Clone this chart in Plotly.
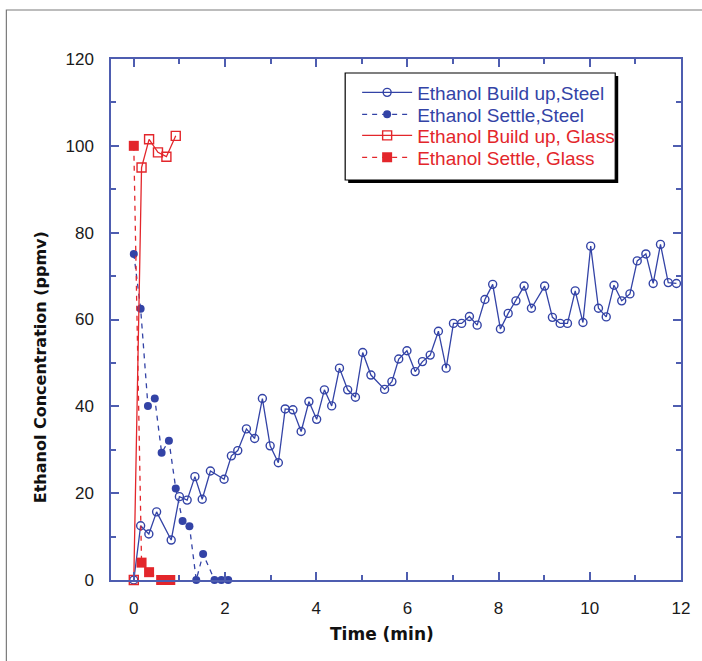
import plotly.graph_objects as go

# ---- data ----
steel_build_t = [0, 0.15, 0.33, 0.50, 0.82, 1.00, 1.17, 1.34, 1.50, 1.68, 1.98, 2.14, 2.28, 2.47, 2.65,
                 2.82, 2.99, 3.17, 3.32, 3.49, 3.67, 3.84, 4.01, 4.18, 4.34, 4.51, 4.69, 4.86, 5.02,
                 5.20, 5.50, 5.66, 5.81, 5.99, 6.17, 6.33, 6.50, 6.68, 6.85, 7.01, 7.19, 7.36, 7.53,
                 7.70, 7.87, 8.04, 8.21, 8.38, 8.56, 8.72, 9.01, 9.18, 9.35, 9.51, 9.68, 9.85, 10.02,
                 10.19, 10.36, 10.53, 10.70, 10.88, 11.04, 11.23, 11.39, 11.55, 11.72, 11.90]
steel_build_c = [0, 12.5, 10.6, 15.7, 9.2, 19.2, 18.4, 23.8, 18.6, 25.1, 23.2, 28.6, 29.8, 34.8, 32.6,
                 41.8, 30.9, 27.0, 39.4, 39.2, 34.2, 41.1, 37.0, 43.8, 40.1, 48.8, 43.8, 42.1, 52.4,
                 47.2, 43.9, 45.7, 50.9, 52.8, 48.0, 50.3, 51.8, 57.3, 48.8, 59.1, 59.1, 60.7, 58.7,
                 64.6, 68.1, 57.8, 61.4, 64.3, 67.7, 62.6, 67.7, 60.5, 59.1, 59.1, 66.6, 59.3, 76.9,
                 62.6, 60.6, 67.9, 64.3, 65.9, 73.5, 75.1, 68.3, 77.3, 68.5, 68.3]

steel_settle_t = [0, 0.15, 0.31, 0.46, 0.61, 0.77, 0.92, 1.07, 1.22, 1.37, 1.52, 1.77, 1.92, 2.07]
steel_settle_c = [75.1, 62.5, 40.1, 41.8, 29.3, 32.1, 21.1, 13.6, 12.4, 0, 6.0, 0, 0, 0]

glass_build_t = [0, 0.17, 0.335, 0.53, 0.715, 0.92]
glass_build_c = [0, 95.0, 101.5, 98.5, 97.5, 102.3]

glass_settle_t = [0, 0.17, 0.335, 0.6, 0.8]
glass_settle_c = [100, 4.0, 1.8, 0, 0]

x_ticks = [0, 2, 4, 6, 8, 10, 12]
y_ticks = [0, 20, 40, 60, 80, 100, 120]

BLUE = "#3343A6"
RED = "#E3262B"
AXIS = "#4E5DB0"
FONT = "Liberation Sans, Arial, sans-serif"
WIDE = "DejaVu Sans, Liberation Sans, Arial, sans-serif"

fig = go.Figure()
fig.add_trace(go.Scatter(
    x=steel_build_t, y=steel_build_c, mode="lines+markers",
    name="<span style='color:%s'>Ethanol Build up,Steel</span>" % BLUE, legend="legend",
    line=dict(color=BLUE, width=1.3),
    marker=dict(symbol="circle-open", size=8, color=BLUE, line=dict(width=1.4, color=BLUE)),
    cliponaxis=False))
fig.add_trace(go.Scatter(
    x=steel_settle_t, y=steel_settle_c, mode="lines+markers",
    name="<span style='color:%s'>Ethanol Settle,Steel</span>" % BLUE, legend="legend2",
    line=dict(color=BLUE, width=1.3, dash="5px,5px"),
    marker=dict(symbol="circle", size=8, color=BLUE),
    cliponaxis=False))
fig.add_trace(go.Scatter(
    x=glass_build_t, y=glass_build_c, mode="lines+markers",
    name="<span style='color:%s'>Ethanol Build up, Glass</span>" % RED, legend="legend3",
    line=dict(color=RED, width=1.3),
    marker=dict(symbol="square-open", size=9, color=RED, line=dict(width=1.4, color=RED)),
    cliponaxis=False))
fig.add_trace(go.Scatter(
    x=glass_settle_t, y=glass_settle_c, mode="lines+markers",
    name="<span style='color:%s'>Ethanol Settle, Glass</span>" % RED, legend="legend4",
    line=dict(color=RED, width=1.3, dash="5px,5px"),
    marker=dict(symbol="square", size=10, color=RED),
    cliponaxis=False))

axis_common = dict(
    showline=True, linecolor=AXIS, linewidth=1.5, mirror="ticks",
    ticks="inside", tickcolor=AXIS, tickwidth=1.5, ticklen=8,
    showgrid=False, zeroline=False,
    tickfont=dict(family=FONT, size=17, color="#1a1a1a"),
)

fig.update_xaxes(
    range=[-0.5, 12], tickvals=x_ticks, ticktext=[str(v) for v in x_ticks],
    minor=dict(dtick=1, ticks="inside", ticklen=5, tickcolor=AXIS, tickwidth=1.5),
    ticklabelstandoff=12,
    **axis_common)
fig.update_yaxes(
    range=[0, 120], tickvals=y_ticks, ticktext=[str(v) for v in y_ticks],
    minor=dict(dtick=10, ticks="inside", ticklen=5, tickcolor=AXIS, tickwidth=1.5),
    ticklabelstandoff=12,
    **axis_common)

W, H = 702, 661
L, R, T, B = 111, 19, 59, 81
pw, ph = W - L - R, H - T - B

def px(x):
    return (x - L) / pw

def py(y):
    return (H - B - y) / ph

shapes = [
    # outer gray frame
    dict(type="rect", xref="paper", yref="paper", x0=px(6), x1=px(730), y0=py(700), y1=py(10),
         line=dict(color="#7a7a7a", width=1.2), fillcolor="rgba(0,0,0,0)", layer="below"),
    # legend shadow
    dict(type="rect", xref="paper", yref="paper", x0=px(349), x1=px(620), y0=py(183), y1=py(76),
         line=dict(width=0), fillcolor="#000000", layer="above"),
    # legend box
    dict(type="rect", xref="paper", yref="paper", x0=px(346), x1=px(617), y0=py(180), y1=py(73),
         line=dict(color="#000000", width=1.2), fillcolor="#ffffff", layer="above"),
]

annotations = [
    dict(text="<b>Time (min)</b>", xref="paper", yref="paper", x=px(383), y=py(634),
         xanchor="center", yanchor="middle", showarrow=False,
         font=dict(family=WIDE, size=17, color="#111")),
    dict(text="<b>Ethanol Concentration (ppmv)</b>", xref="paper", yref="paper", x=px(40), y=py(367),
         xanchor="center", yanchor="middle", textangle=-90, showarrow=False,
         font=dict(family=WIDE, size=16, color="#111")),
]

row_y = [92.5, 114.5, 135.5, 157.5]

def leg(y):
    return dict(x=px(358), y=py(y), xanchor="left", yanchor="middle",
                bgcolor="rgba(0,0,0,0)", borderwidth=0,
                font=dict(family=FONT, size=19), itemwidth=50)

fig.update_layout(
    width=W, height=H,
    margin=dict(l=L, r=R, t=T, b=B),
    paper_bgcolor="white", plot_bgcolor="white",
    font=dict(family=FONT),
    shapes=shapes,
    annotations=annotations,
    showlegend=True,
    legend=leg(row_y[0]),
    legend2=leg(row_y[1]),
    legend3=leg(row_y[2]),
    legend4=leg(row_y[3]),
)

fig.write_html("out.html", config={"displayModeBar": False},
               post_script="document.body.style.margin='0';")
